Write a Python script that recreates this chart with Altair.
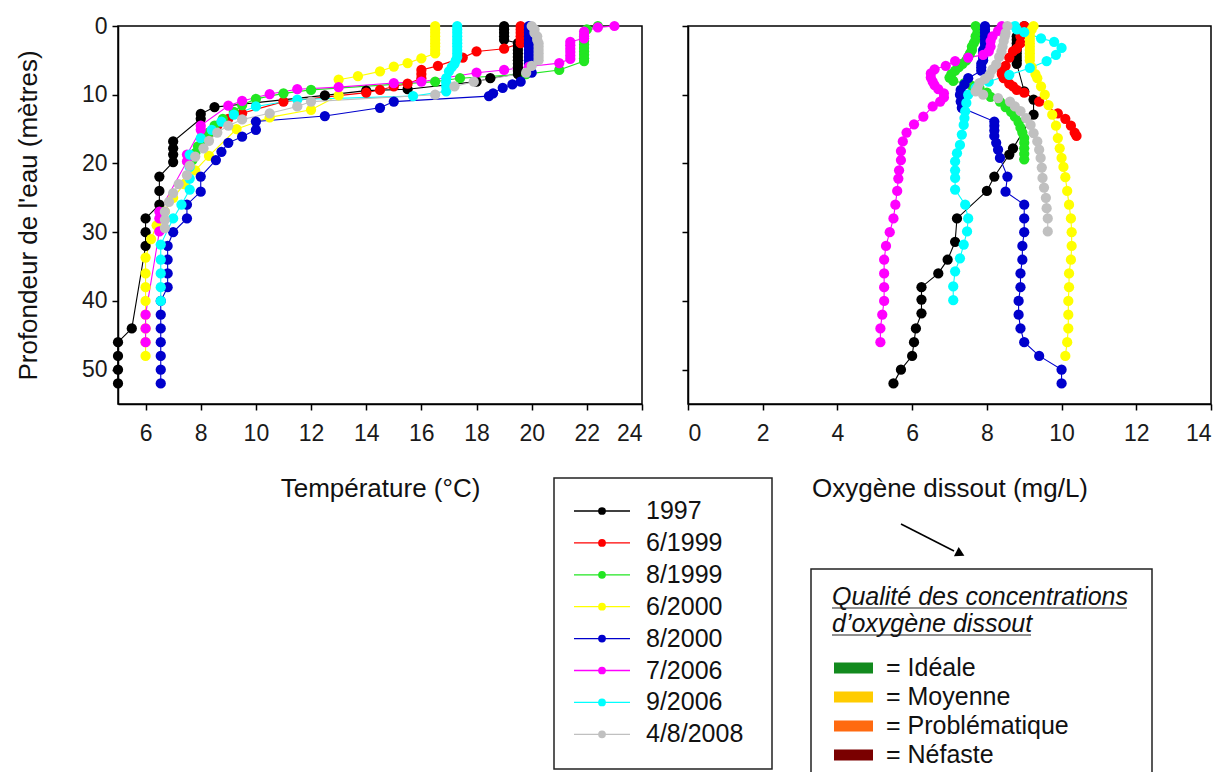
import altair as alt
import pandas as pd

SERIES = ["1997", "6/1999", "8/1999", "6/2000", "8/2000", "7/2006", "9/2006", "4/8/2008"]
COLORS = ["#000000", "#ff0000", "#22e622", "#ffff00", "#0000cc", "#ff00ff", "#00ffff", "#c0c0c0"]

# ---- Temperature profiles (temperature °C, depth m) ----
TEMP_1997 = [(19.0,0),(19.0,0.5),(19.0,1),(19.0,1.5),(19.0,2),(19.5,2.5),(19.5,3),(19.5,3.5),(19.5,4),(19.5,4.5),
             (19.5,5),(19.5,5.5),(19.5,6),(19.5,6.5),(19.5,7),(18.5,7.6),(18.0,8.1),(15.5,9.2),(14.0,9.4),(12.5,10.1),
             (8.5,11.8),(8.0,12.8),(8.0,13.5),(7.0,16.8),(7.0,17.8),(7.0,18.7),(7.0,19.8),(6.5,21.9),(6.5,24.0),
             (6.5,26.0),(6.0,28.0),(6.0,30.0),(6.0,32.0),(5.5,44.0),(5.0,46.0),(5.0,48.0),(5.0,50.0),(5.0,52.0)]
TEMP_6_1999 = [(19.6,0),(19.6,0.5),(19.6,1),(19.6,1.5),(19.6,2),(19.6,2.5),(19.0,3.3),(18.0,3.7),(17.5,4.6),
               (16.6,5.8),(16.0,6.4),(16.0,7.0),(16.0,7.6),(15.5,8.4),(15.0,8.8),(14.5,9.3),(14.0,9.7),(11.0,11.0),
               (9.5,12.7),(9.0,13.5),(8.6,14.5),(8.3,15.5),(8.1,16.0)]
TEMP_8_1999 = [(22.4,0),(22.0,0.5),(21.9,1.5),(21.9,2.2),(21.9,2.7),(21.9,3.2),(21.9,3.7),(21.9,4.2),(21.9,4.7),
               (21.9,5.1),(21.0,6.4),(19.8,7.0),(17.4,7.6),(16.5,8.1),(12.0,9.3),(11.0,9.8),(10.0,10.6),(9.5,11.5),
               (9.2,12.5),(8.8,13.5),(8.5,14.5),(8.3,15.5),(8.1,16.5),(7.9,17.5),(7.8,18.5),(7.7,19.5)]
TEMP_6_2000 = [(16.5,0),(16.5,0.5),(16.5,1),(16.5,1.5),(16.5,2),(16.5,2.5),(16.5,3),(16.5,3.5),(16.5,4),(16.0,4.7),
               (15.5,5.4),(15.0,5.9),(14.5,6.6),(13.7,7.3),(13.0,7.8),(13.0,10.1),(12.0,12.2),(10.5,13.3),(9.3,15.0),
               (8.3,18.9),(7.8,21.0),(7.4,23.0),(7.0,25.0),(6.7,27.0),(6.4,29.0),(6.2,31.0),(6.0,33.7),(6.0,36.0),
               (6.0,38.0),(6.0,40.0),(6.0,42.0),(6.0,44.0),(6.0,46.0),(6.0,48.0)]
TEMP_8_2000 = [(19.9,0),(19.9,0.5),(19.9,1),(19.9,1.5),(19.9,2),(19.9,2.5),(19.9,3),(19.9,3.5),(19.9,4),(19.9,4.5),
               (19.9,5),(19.9,5.5),(20.0,6.8),(19.6,8.1),(19.3,8.5),(18.95,9.0),(18.6,9.8),(18.45,10.2),(15.0,11.0),
               (14.5,11.9),(12.5,13.1),(10.0,13.9),(10.0,15.1),(9.5,16.1),(9.0,17.0),(8.75,18.3),(8.55,19.5),
               (8.0,21.9),(8.0,24.1),(7.5,26.0),(7.5,28.0),(7.0,30.0),(6.8,32.0),(6.8,34.0),(6.8,36.0),(6.8,38.0),
               (6.55,40.0),(6.55,42.0),(6.55,44.0),(6.55,46.0),(6.55,48.0),(6.55,50.0),(6.55,52.0)]
TEMP_7_2006 = [(23.0,0),(22.4,0.2),(21.9,0.8),(21.9,1.3),(21.9,1.8),(21.4,2.3),(21.4,2.8),(21.4,3.3),(21.4,3.8),
               (21.4,4.3),(21.4,4.8),(21.0,5.4),(19.9,5.9),(19.0,6.4),(18.0,6.8),(16.0,8.1),(15.0,8.3),(13.0,8.9),
               (11.5,9.2),(10.5,9.9),(9.5,10.9),(9.0,11.6),(8.0,14.5),(8.0,15.1),(7.5,18.7),(7.5,19.7),(6.5,27.0),
               (6.5,28.0),(6.5,29.9),(6.0,42.0),(6.0,44.0),(6.0,46.0)]
TEMP_9_2006 = [(17.3,0),(17.3,0.5),(17.3,1),(17.3,1.5),(17.3,2),(17.3,2.5),(17.3,3),(17.3,3.5),(17.3,4),(17.3,4.5),
               (17.25,5),(17.2,5.5),(17.1,6),(17.0,6.6),(16.9,7.6),(16.9,8.2),(16.9,8.8),(16.9,9.5),(15.7,10.2),
               (11.5,10.7),(10.0,11.7),(9.2,12.9),(8.75,13.9),(8.4,15.1),(8.0,16.3),(7.6,18.7),(7.6,20.5),(7.6,22.2),
               (7.6,23.8),(7.3,26.0),(7.0,28.0),(6.55,31.8),(6.55,34.0),(6.55,36.0),(6.55,38.0),(6.55,40.0)]
TEMP_4_8_2008 = [(20.0,0),(20.1,0.5),(20.1,1),(20.2,1.5),(20.2,2),(20.25,2.5),(20.25,3),(20.25,3.5),(20.25,4),
                 (20.25,4.5),(20.25,5),(20.0,5.8),(19.8,6.8),(17.9,8.1),(17.2,8.8),(16.5,10.0),(12.0,11.0),(11.5,11.7),
                 (10.5,12.7),(9.5,13.6),(9.0,14.5),(8.6,15.5),(8.3,16.7),(8.1,17.8),(7.8,19.0),(7.6,20.3),(7.5,21.7),
                 (7.2,23.0),(7.0,24.3),(6.85,25.6),(6.7,27.0),(6.7,28.2),(6.7,29.4)]

# ---- Dissolved oxygen profiles (mg/L, depth m) ----
OXY_1997 = [(9.0,0),(8.95,0.5),(8.8,1.5),(8.8,2),(8.8,2.5),(8.8,3),(8.8,3.5),(8.8,4),(8.8,4.5),(8.8,5),(8.8,5.5),
            (9.0,9.5),(9.25,10.7),(9.25,12.9),(8.7,17.8),(8.6,18.7),(8.2,21.9),(8.0,24.0),(7.2,28.0),(7.15,31.4),
            (6.95,34.0),(6.7,36.0),(6.25,38.0),(6.25,39.8),(6.25,41.8),(6.1,44.0),(6.05,46.0),(6.0,48.0),(5.7,50.0),
            (5.5,52.0)]
OXY_6_1999 = [(9.0,0),(9.0,0.5),(8.9,1.5),(8.9,2.5),(8.8,3.3),(8.7,3.7),(8.6,4.6),(8.5,5.8),(8.4,6.4),(8.4,7.0),
              (8.45,7.6),(8.6,8.4),(8.7,8.8),(8.8,9.3),(9.0,9.7),(9.4,11.0),(9.9,12.7),(10.1,13.5),(10.25,14.5),
              (10.35,15.5),(10.4,16.0)]
OXY_8_1999 = [(7.7,0),(7.75,0.5),(7.75,1),(7.7,1.5),(7.7,2),(7.65,2.5),(7.6,3),(7.6,3.5),(7.55,4),(7.5,4.5),
              (7.45,5),(7.35,5.5),(7.25,6.0),(7.15,6.5),(7.05,7.0),(7.0,7.5),(7.1,8.0),(7.4,8.3),(7.6,8.7),(7.8,9.0),
              (8.0,9.7),(8.1,10.3),(8.35,11.0),(8.5,11.8),(8.65,12.5),(8.75,13.2),(8.85,14.0),(8.9,14.8),(8.95,15.5),
              (9.0,16.3),(9.0,17.0),(9.0,17.8),(9.0,18.6),(9.0,19.4)]
OXY_6_2000 = [(9.25,0),(9.2,0.5),(9.15,1),(9.15,1.5),(9.15,2),(9.15,2.5),(9.15,3),(9.15,3.5),(9.15,4),(9.15,4.5),
              (9.15,5),(9.2,6),(9.3,7),(9.35,7.6),(9.45,8.8),(9.55,10),(9.65,11.5),(9.75,12.9),(9.85,14.5),(9.9,16.3),
              (9.95,17.8),(10.0,19.2),(10.05,20.5),(10.1,22),(10.15,24),(10.2,26),(10.25,28),(10.27,30),(10.27,32),
              (10.25,34),(10.2,36),(10.2,38),(10.18,40),(10.18,42),(10.18,44),(10.15,46),(10.1,48)]
OXY_8_2000 = [(7.95,0),(7.95,0.5),(7.95,1),(7.95,1.5),(7.95,2),(7.95,2.5),(7.95,3),(7.9,3.5),(7.9,4),(7.9,4.5),
              (7.9,5),(7.85,5.5),(7.85,6),(7.85,6.5),(7.5,7.6),(7.4,8.5),(7.3,9.3),(7.28,10),(7.3,11),(7.33,11.9),
              (8.2,13.9),(8.2,14.5),(8.2,15.2),(8.2,16),(8.25,17),(8.3,18),(8.35,19.2),(8.55,21.9),(8.5,24.1),
              (9.0,26),(9.0,28),(9.0,30),(8.95,32),(8.95,34),(8.9,36),(8.9,38),(8.85,40),(8.85,42),(8.9,44),
              (9.0,46),(9.4,48),(10.0,50),(10.0,52)]
OXY_7_2006 = [(8.4,0),(8.3,0.7),(8.15,1.5),(8.1,2.2),(8.1,3),(8.05,3.7),(7.9,4.2),(7.5,4.6),(7.15,5.1),(6.9,5.8),
              (6.6,6.3),(6.5,6.9),(6.5,7.5),(6.55,8.1),(6.6,8.6),(6.7,9.2),(6.85,9.8),(6.85,10.4),(6.75,11),
              (6.55,11.7),(6.3,13.2),(6.05,14.3),(5.85,15.5),(5.75,16.8),(5.7,18.2),(5.7,19.5),(5.65,21),(5.63,22.2),
              (5.6,24),(5.55,26),(5.5,28),(5.4,30),(5.3,32),(5.25,34),(5.25,36),(5.25,38),(5.25,40),(5.2,42),
              (5.15,44),(5.15,46)]
OXY_9_2006 = [(8.75,0),(8.8,0.5),(9.0,0.9),(9.45,1.8),(9.8,2.3),(10.0,3.2),(9.85,4.2),(9.6,5.1),(9.15,6.1),
              (8.6,7.1),(8.05,8.1),(7.7,9.0),(7.5,10),(7.45,11.2),(7.42,12.4),(7.4,13.4),(7.38,14.4),(7.33,15.8),
              (7.28,17.3),(7.2,18.5),(7.15,19.7),(7.15,21),(7.15,22.1),(7.15,23.8),(7.42,26),(7.5,28),(7.47,29.9),
              (7.38,31.8),(7.28,33.8),(7.15,35.7),(7.1,37.9),(7.1,39.9)]
OXY_4_8_2008 = [(8.55,0),(8.5,1),(8.48,1.5),(8.45,2.2),(8.42,3),(8.39,3.7),(8.33,4.5),(8.25,5.6),(8.15,6.3),
                (8.07,7.1),(7.95,7.7),(7.8,8.3),(7.75,9),(7.7,9.5),(7.9,10),(8.3,10.5),(8.62,11),(8.75,11.7),(8.9,12.4),
                (9.05,13.4),(9.17,14.4),(9.25,15.6),(9.35,16.8),(9.4,18),(9.44,19.2),(9.47,20.6),(9.49,22.1),
                (9.53,23.5),(9.58,25),(9.6,26.5),(9.63,28),(9.63,29.9)]

TEMP = [TEMP_1997, TEMP_6_1999, TEMP_8_1999, TEMP_6_2000, TEMP_8_2000, TEMP_7_2006, TEMP_9_2006, TEMP_4_8_2008]
OXY = [OXY_1997, OXY_6_1999, OXY_8_1999, OXY_6_2000, OXY_8_2000, OXY_7_2006, OXY_9_2006, OXY_4_8_2008]

QUALITY_LABELS = ["= Idéale", "= Moyenne", "= Problématique", "= Néfaste"]
QUALITY_COLORS = ["#128a1e", "#ffcc00", "#ff6a10", "#7a0000"]

FONT = "Liberation Sans"


def to_df(profiles):
    rows = []
    for name, prof in zip(SERIES, profiles):
        for i, (v, d) in enumerate(prof):
            rows.append({"series": name, "val": v, "depth": d, "ord": i})
    return pd.DataFrame(rows)


def panel(df, xdom, xticks, xtitle, left):
    color = alt.Color("series:N", scale=alt.Scale(domain=SERIES, range=COLORS), legend=None)
    x = alt.X("val:Q", scale=alt.Scale(domain=xdom, nice=False, zero=False),
              axis=alt.Axis(values=xticks, title=xtitle))
    if left:
        yaxis = alt.Axis(values=[0, 10, 20, 30, 40, 50], title="Profondeur de l'eau (mètres)", titlePadding=40)
    else:
        yaxis = alt.Axis(values=[0, 10, 20, 30, 40, 50], labels=False, title=None)
    y = alt.Y("depth:Q", scale=alt.Scale(domain=[0, 55], reverse=True, nice=False, zero=False), axis=yaxis)
    base = alt.Chart(df)
    lines = base.mark_line(strokeWidth=1.1).encode(x=x, y=y, color=color, detail="series:N", order="ord:Q")
    pts = base.mark_point(filled=True, shape="circle", size=105, opacity=1).encode(x=x, y=y, color=color)
    return [lines, pts]


one = pd.DataFrame({"k": [1]})


def deco_rect(x1, x2, y1, y2, fill="transparent", stroke=None, sw=1.5):
    kw = {"fill": fill}
    if stroke:
        kw.update(stroke=stroke, strokeWidth=sw)
    return alt.Chart(one).mark_rect(**kw).encode(x=alt.value(x1), x2=alt.value(x2), y=alt.value(y1), y2=alt.value(y2))


def deco_text(txt, x, y, size=25, italic=False):
    kw = dict(text=txt, align="left", baseline="middle", font=FONT, fontSize=size, color="#111111")
    if italic:
        kw["fontStyle"] = "italic"
    return alt.Chart(one).mark_text(**kw).encode(x=alt.value(x), y=alt.value(y))


def deco_rule(x1, x2, y1, y2, color="#000000", sw=1.2):
    return alt.Chart(one).mark_rule(color=color, strokeWidth=sw).encode(
        x=alt.value(x1), x2=alt.value(x2), y=alt.value(y1), y2=alt.value(y2))


# Decorations (pixel positions relative to the right panel's plot origin)
decos = []
# series legend box
decos.append(deco_rect(-134, 84, 452, 743, stroke="#222222", sw=1.5))
for i, (name, col) in enumerate(zip(SERIES, COLORS)):
    ly = 485 + 31.9 * i
    decos.append(deco_rule(-114, -58, ly, ly, color=col, sw=1.3))
    decos.append(alt.Chart(one).mark_point(filled=True, shape="circle", size=60, color=col, opacity=1)
                 .encode(x=alt.value(-86), y=alt.value(ly)))
    decos.append(deco_text(name, -42, ly))
# arrow
decos.append(deco_rule(213, 266, 498, 525, sw=1.6))
decos.append(alt.Chart(one).mark_point(filled=True, shape="triangle", size=110, angle=117, color="#000000", opacity=1)
             .encode(x=alt.value(271), y=alt.value(527)))
# quality box
decos.append(deco_rect(123, 464, 543, 755, stroke="#222222", sw=1.5))
decos.append(deco_text("Qualité des concentrations", 144, 571, italic=True))
decos.append(deco_rule(144, 439, 582, 582, color="#222222", sw=1.2))
decos.append(deco_text("d\u2019oxygène dissout", 144, 598, italic=True))
decos.append(deco_rule(144, 343, 609, 609, color="#222222", sw=1.2))
for i, (lab, col) in enumerate(zip(QUALITY_LABELS, QUALITY_COLORS)):
    qy = 642 + 29 * i
    decos.append(deco_rect(146, 185, qy - 5.5, qy + 5.5, fill=col))
    decos.append(deco_text(lab, 198, qy))

left = alt.layer(*panel(to_df(TEMP), [5, 24], list(range(6, 25, 2)), "Température (°C)", True)).properties(
    width=524, height=378)
right = alt.layer(*panel(to_df(OXY), [0, 14], list(range(0, 15, 2)), "Oxygène dissout (mg/L)", False),
                  *decos).properties(width=523, height=378)

chart = alt.hconcat(left, right, spacing=46, bounds="flush").properties(
    padding={"left": 6, "top": 6, "right": 0, "bottom": 0}
).configure_view(
    stroke="#000000", strokeWidth=1.5
).configure_axis(
    grid=False, domainColor="#000000", domainWidth=1.5, tickColor="#000000", tickWidth=1.5, tickSize=6,
    labelFont=FONT, labelFontSize=23, labelColor="#1a1a1a", labelPadding=5,
    titleFont=FONT, titleFontSize=26, titleFontWeight="normal", titleColor="#111111"
).configure_axisX(
    labelPadding=12, titlePadding=30
)

chart.save("out.html", embed_options={"renderer": "svg", "actions": False})
